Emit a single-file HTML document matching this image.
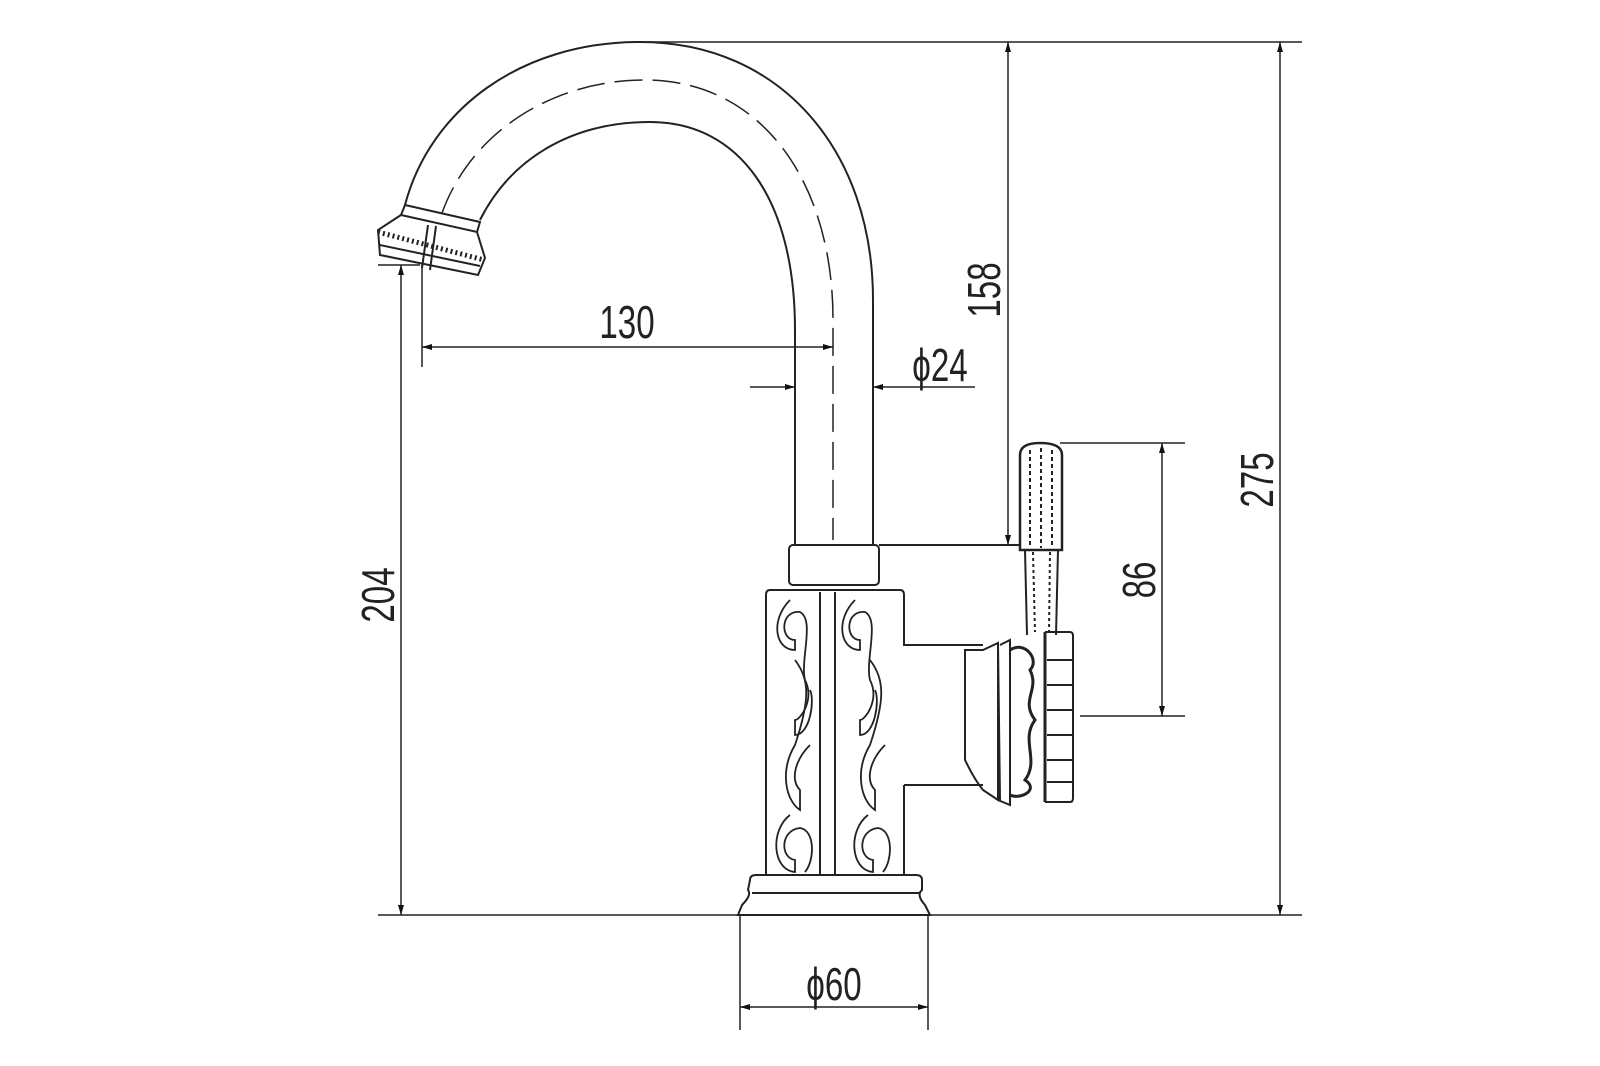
<!DOCTYPE html>
<html><head><style>html,body{margin:0;padding:0;background:#fff}svg{display:block}
text{font-family:"Liberation Sans",sans-serif;font-size:46px;fill:#222}</style></head>
<body>
<svg width="1600" height="1066" viewBox="0 0 1600 1066" xmlns="http://www.w3.org/2000/svg">
<defs>
<marker id="a" viewBox="0 0 10 10" refX="10" refY="5" markerWidth="10" markerHeight="36" markerUnits="userSpaceOnUse" orient="auto"><path d="M0,2 L10,5 L0,8z" fill="#111"/></marker>
</defs>
<g fill="none" stroke="#222" stroke-width="2">
<!-- spout -->
<path d="M405,205 C430,110 520,42 640,42 C780,42 873,150 873,300 L873,545"/>
<path d="M480,220 C510,160 570,122 650,122 C740,122 795,200 795,330 L795,545"/>
<path d="M442,213 C472,130 555,80 645,80 C760,80 833,180 833,320 L833,540" stroke-dasharray="28,10" stroke-width="1.5"/>
<!-- nozzle -->
<path d="M405,205 L480,222 L477,232 L401,215 Z"/>
<path d="M401,215 L378,230 L380,255 L478,275 L485,258 L477,232"/>
<path d="M378,232 L484,260" stroke-width="5" stroke-dasharray="2,3"/>
<path d="M380,245 L480,266"/>
<path d="M428,225 L422,268 M436,226 L430,270"/>
<!-- collar -->
<rect x="789" y="545" width="90" height="40" rx="4"/>
<!-- body -->
<path d="M770,590 L900,590 Q904,590 904,595 L904,645 L983,645 M904,785 L983,785 M904,785 L904,875 M770,590 Q766,590 766,595 L766,875"/>
<path d="M820,592 L820,875 M835,592 L835,875"/>
<g stroke-width="1.8">
<path d="M790,600 C770,620 775,650 795,650 L795,640 C780,640 780,610 800,612 C815,620 800,660 805,680 C815,700 800,720 795,720 L795,735 C810,735 815,700 810,690"/>
<path d="M855,600 C835,620 840,650 860,650 L860,640 C845,640 845,610 865,612 C880,620 865,660 870,680 C880,700 865,720 860,720 L860,735 C875,735 880,700 875,690"/>
<path d="M795,660 C810,680 810,700 795,745 C780,770 785,800 800,810 L800,790 C790,780 795,760 810,745"/>
<path d="M870,660 C885,680 885,700 870,745 C855,770 860,800 875,810 L875,790 C865,780 870,760 885,745"/>
<path d="M790,815 C770,830 772,870 795,872 L795,860 C780,858 780,830 800,828 C815,830 815,860 805,872"/>
<path d="M868,815 C848,830 850,870 873,872 L873,860 C858,858 858,830 878,828 C893,830 893,860 883,872"/>
</g>
<!-- nut & decoration -->
<path d="M983,650 L998,643 L998,800 L983,790 C975,780 970,770 965,760 L965,650 Z"/>
<path d="M998,643 L1000,800 M1000,645 L1010,640 L1010,805 L998,800"/>
<path d="M1010,650 C1025,640 1040,660 1030,670 C1040,690 1020,700 1035,720 C1020,740 1040,760 1025,780 C1040,790 1020,800 1010,795" stroke-width="3"/>
<path d="M1045,632 L1070,632 Q1073,632 1073,636 L1073,798 Q1073,802 1070,802 L1045,802"/>
<path d="M1045,632 L1045,802" stroke-width="3"/>
<path d="M1047,660 L1073,660 M1047,685 L1073,685 M1047,710 L1073,710 M1047,735 L1073,735 M1047,760 L1073,760 M1047,782 L1073,782"/>
<!-- lever -->
<path d="M1020,550 L1020,455 Q1020,443 1040,443 Q1062,443 1062,455 L1062,550 Z" stroke-width="2.5"/>
<path d="M1030,450 L1030,548 M1041,448 L1041,548 M1052,450 L1052,548" stroke-dasharray="4,3" stroke-width="2"/>
<path d="M1025,550 L1027,635 M1058,550 L1056,635"/>
<path d="M1033,552 L1035,632 M1050,552 L1049,632" stroke-dasharray="3,3"/>
<!-- base -->
<path d="M750,880 Q750,875 756,875 L916,875 Q922,875 922,880 L922,890 Q916,895 925,905 L930,915 L738,915 L742,905 Q752,895 748,890 Z"/>
<path d="M752,893 L920,893"/>
<!-- handle line -->
<path d="M879,545 L1020,545"/>
</g>
<g fill="none" stroke="#222" stroke-width="1.5">
<!-- frame lines -->
<path d="M378,915 L1302,915 M640,42 L1302,42"/>
<path d="M1060,443 L1185,443 M1080,716 L1185,716"/>
<path d="M378,265 L420,265 M422,265 L422,367"/>
<path d="M740,915 L740,1030 M928,915 L928,1030"/>
<!-- dims -->
<path d="M1280,480 L1280,42" marker-end="url(#a)"/><path d="M1280,480 L1280,915" marker-end="url(#a)"/>
<path d="M1008,290 L1008,42" marker-end="url(#a)"/><path d="M1008,290 L1008,545" marker-end="url(#a)"/>
<path d="M1162,580 L1162,443" marker-end="url(#a)"/><path d="M1162,580 L1162,716" marker-end="url(#a)"/>
<path d="M401,600 L401,265" marker-end="url(#a)"/><path d="M401,600 L401,915" marker-end="url(#a)"/>
<path d="M628,347 L422,347" marker-end="url(#a)"/><path d="M628,347 L833,347" marker-end="url(#a)"/>
<path d="M750,387 L795,387" marker-end="url(#a)"/><path d="M975,387 L873,387" marker-end="url(#a)"/>
<path d="M834,1007 L740,1007" marker-end="url(#a)"/><path d="M834,1007 L928,1007" marker-end="url(#a)"/>
</g>
<g>
<text transform="translate(1273,480) rotate(-90) scale(0.72,1)" text-anchor="middle">275</text>
<text transform="translate(1000,290) rotate(-90) scale(0.72,1)" text-anchor="middle">158</text>
<text transform="translate(1155,580) rotate(-90) scale(0.72,1)" text-anchor="middle">86</text>
<text transform="translate(394,595) rotate(-90) scale(0.72,1)" text-anchor="middle">204</text>
<text transform="translate(627,338) scale(0.72,1)" text-anchor="middle">130</text>
<text transform="translate(940,381) scale(0.72,1)" text-anchor="middle">ϕ24</text>
<text transform="translate(834,1000) scale(0.72,1)" text-anchor="middle">ϕ60</text>
</g>
</svg>
</body></html>
